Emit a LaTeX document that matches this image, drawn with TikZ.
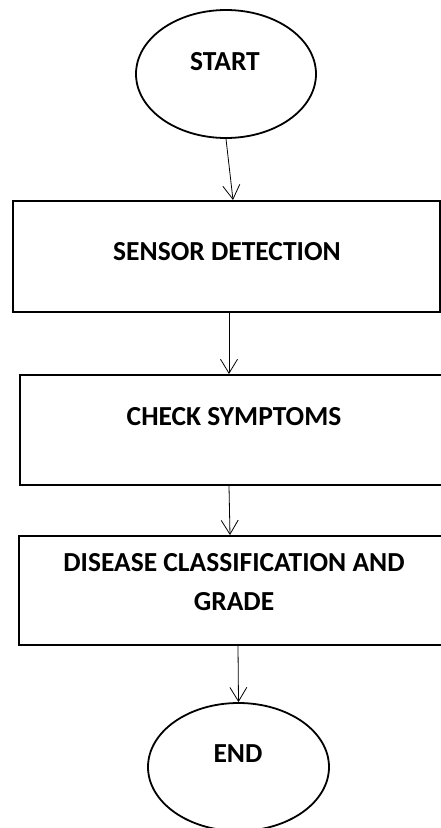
\documentclass[tikz,border=0pt]{standalone}
\usepackage{fontspec}
\setmainfont{Carlito}
\usetikzlibrary{shapes.geometric,arrows.meta}
\tikzset{
  oval/.style={draw, line width=1.8pt, ellipse, inner sep=0pt},
  stepbox/.style={draw, line width=2pt, rectangle, inner sep=0pt},
  lbl/.style={font=\fontsize{27.5}{39}\selectfont\bfseries, align=center, inner sep=0pt},
  arr/.style={line width=0.8pt, -{Straight Barb[length=14pt,width=17pt,line width=0.8pt]}}
}
\begin{document}
\begin{tikzpicture}[x=1pt,y=-1pt]
\useasboundingbox (0,0) rectangle (441,828);
\clip (0,0) rectangle (441,828);
\node[oval, minimum width=180pt, minimum height=128pt] (s) at (226,74) {};
\node[lbl] (st) at (225,62) {START};
\node[stepbox, minimum width=427pt, minimum height=111pt] (b1) at (226.5,256.5) {};
\node[lbl] (t1) at (227,252) {SENSOR DETECTION};
\node[stepbox, minimum width=430pt, minimum height=110pt] (b2) at (235,430) {};
\node[lbl] (t2) at (234,417) {CHECK SYMPTOMS};
\node[stepbox, minimum width=431pt, minimum height=109pt] (b3) at (234.5,590.5) {};
\node[lbl] (t3) at (234,582.5) {DISEASE CLASSIFICATION AND\\GRADE};
\node[oval, minimum width=181pt, minimum height=128pt] (e) at (238.5,767) {};
\node[lbl] (et) at (238,754) {END};
\draw[arr] (s.south) -- ([xshift=6.5pt]b1.north);
\draw[arr] ([xshift=2.5pt]b1.south) -- ([xshift=-6pt]b2.north);
\draw[arr] ([xshift=-6pt]b2.south) -- ([xshift=-4.5pt]b3.north);
\draw[arr] ([xshift=3.5pt]b3.south) -- (e.north);
\end{tikzpicture}
\end{document}
